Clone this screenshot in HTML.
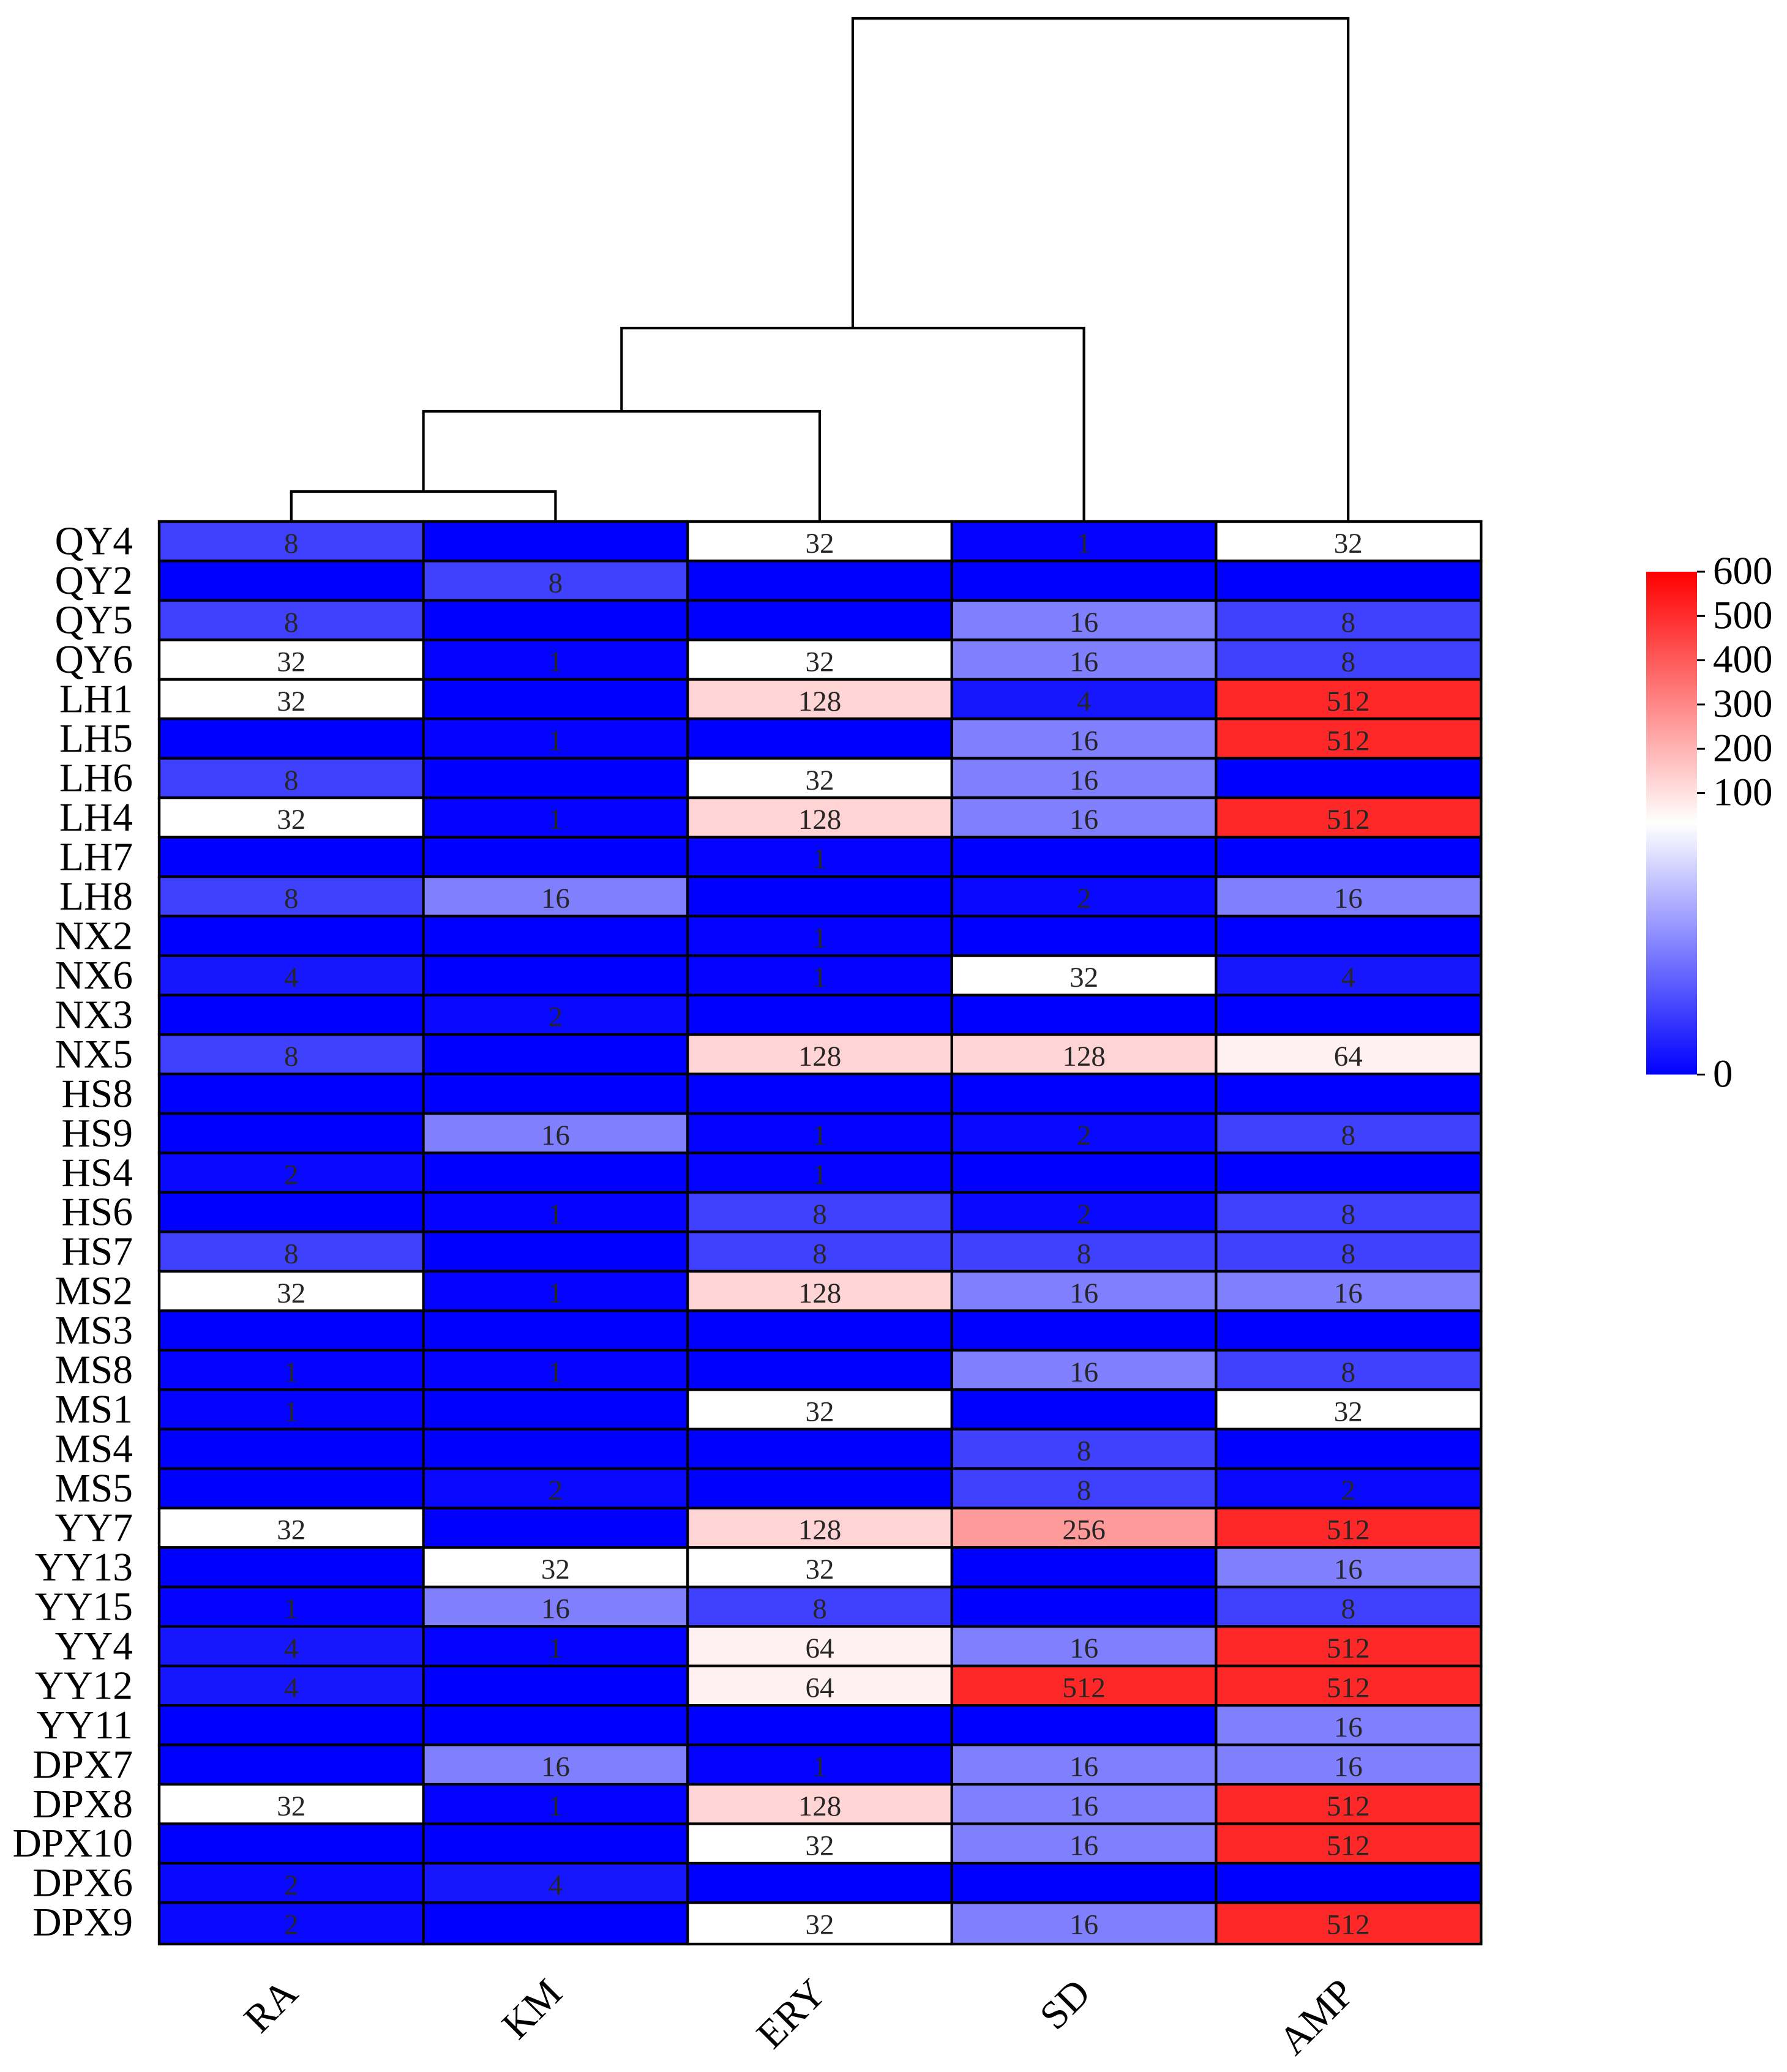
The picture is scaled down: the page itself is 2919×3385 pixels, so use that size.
<!DOCTYPE html>
<html lang="en">
<head>
<meta charset="utf-8">
<title>Clustered heatmap</title>
<style>
html,body{margin:0;padding:0;background:#fff;}
svg{display:block;font-family:"Liberation Serif",serif;}
</style>
</head>
<body>
<svg id="chart" xmlns="http://www.w3.org/2000/svg" width="2919" height="3385" viewBox="0 0 2919 3385">
<rect x="0" y="0" width="2919" height="3385" fill="#ffffff"/>
<defs>
<linearGradient id="cbar-gradient" x1="0" y1="1" x2="0" y2="0">
<stop offset="0" stop-color="#0000ff"/>
<stop offset="0.5" stop-color="#ffffff"/>
<stop offset="1" stop-color="#ff0000"/>
</linearGradient>
</defs>
<g id="dendrogram"></g>
<g id="cells"></g>
<g id="rowlabels"></g>
<g id="collabels"></g>
<g id="colorbar"></g>
</svg>
<script>
const rowNames = ["QY4","QY2","QY5","QY6","LH1","LH5","LH6","LH4","LH7","LH8","NX2","NX6","NX3","NX5","HS8","HS9","HS4","HS6","HS7","MS2","MS3","MS8","MS1","MS4","MS5","YY7","YY13","YY15","YY4","YY12","YY11","DPX7","DPX8","DPX10","DPX6","DPX9"];
const colNames = ["RA","KM","ERY","SD","AMP"];
const valuesRA  = [8,0,8,32,32,0,8,32,0,8,0,4,0,8,0,0,2,0,8,32,0,1,1,0,0,32,0,1,4,4,0,0,32,0,2,2];
const valuesKM  = [0,8,0,1,0,1,0,1,0,16,0,0,2,0,0,16,0,1,0,1,0,1,0,0,2,0,32,16,1,0,0,16,1,0,4,0];
const valuesERY = [32,0,0,32,128,0,32,128,1,0,1,1,0,128,0,1,1,8,8,128,0,0,32,0,0,128,32,8,64,64,0,1,128,32,0,32];
const valuesSD  = [1,0,16,16,4,16,16,16,0,2,0,32,0,128,0,2,0,2,8,16,0,16,0,8,8,256,0,0,16,512,0,16,16,16,0,16];
const valuesAMP = [32,0,8,8,512,512,0,512,0,16,0,4,0,64,0,8,0,8,8,16,0,8,32,0,2,512,16,8,512,512,16,16,512,512,0,512];
const colorbarTicks = [0,100,200,300,400,500,600];
const normMin = 0;
const normCenter = 32;
const normMax = 600;
const mergeLeft = [0,5,6,7];
const mergeRight = [1,2,3,4];
const mergeDistance = [98,360,632,1644];

const SVGNS = "http://www.w3.org/2000/svg";
const heatLeft = 260, heatRight = 2419.3, heatTop = 852, heatBottom = 3176;
const cbLeft = 2689, cbRight = 2772, cbTop = 934, cbBottom = 1755.5;
const seriesByColumn = [valuesRA, valuesKM, valuesERY, valuesSD, valuesAMP];
const colWidth = 431.6;
const rowHeight = 64.47;

function xCol(i){ return heatLeft + i * colWidth; }
function yRow(i){ return heatTop + i * rowHeight; }
function cellW(i){ return i === colNames.length - 1 ? heatRight - xCol(i) : colWidth; }
function cellH(i){ return i === rowNames.length - 1 ? heatBottom - yRow(i) : rowHeight; }
function yDist(d){ return heatTop - d * 0.5; }
function normalize(v){
  if (v <= normCenter) return 0.5 * (v - normMin) / (normCenter - normMin);
  return 0.5 + 0.5 * (v - normCenter) / (normMax - normCenter);
}
function yBar(v){ return cbBottom - normalize(v) * (cbBottom - cbTop); }
function colorOf(v){
  const t = normalize(v);
  if (t <= 0.5){
    let c = 255 * t * 2;
    if (v < 8) c = 64 * Math.pow(v / 8, 1.5);
    c = Math.round(c);
    return "rgb(" + c + "," + c + ",255)";
  }
  const c = Math.round(255 * (1 - t) * 2);
  return "rgb(255," + c + "," + c + ")";
}
function make(tag, attrs, parent){
  const el = document.createElementNS(SVGNS, tag);
  for (const k in attrs) el.setAttribute(k, attrs[k]);
  parent.appendChild(el);
  return el;
}

const cellsG = document.getElementById("cells");
rowNames.forEach(function(rowName, r){
  colNames.forEach(function(colName, c){
    const v = seriesByColumn[c][r];
    const rect = make("rect", {x:xCol(c), y:yRow(r), width:cellW(c), height:cellH(r), fill:colorOf(v), stroke:"#000000", "stroke-width":4.2}, cellsG);
    
    
  });
});
rowNames.forEach(function(rowName, r){
  colNames.forEach(function(colName, c){
    const v = seriesByColumn[c][r];
    if (v === 0) return;
    const t = make("text", {x:xCol(c) + colWidth / 2, y:yRow(r) + rowHeight / 2 + 18.7, "text-anchor":"middle", "font-size":47, fill:"#262626"}, cellsG);
    t.textContent = String(v);
    
    
  });
});

const frame = make("rect", {x:heatLeft, y:heatTop, width:heatRight - heatLeft, height:heatBottom - heatTop, fill:"none", stroke:"#000000", "stroke-width":4.2}, cellsG);



const rowG = document.getElementById("rowlabels");
rowNames.forEach(function(rowName, r){
  const t = make("text", {x:217, y:yRow(r) + rowHeight / 2 + 21.5, "text-anchor":"end", "font-size":65.5, fill:"#000000"}, rowG);
  t.textContent = rowName;
  
  
});

const colG = document.getElementById("collabels");
colNames.forEach(function(colName, c){
  const ax = xCol(c) + colWidth / 2 + 14;
  const ay = 3260;
  const t = make("text", {x:ax, y:ay, "text-anchor":"end", "font-size":65.5, fill:"#000000", transform:"rotate(-45 " + ax + " " + ay + ")"}, colG);
  t.textContent = colName;
  
  
});

const dendroG = document.getElementById("dendrogram");
const nodeX = colNames.map(function(_, i){ return xCol(i) + colWidth / 2; });
const nodeD = colNames.map(function(){ return 0; });
mergeLeft.forEach(function(left, m){
  const right = mergeRight[m];
  const d = mergeDistance[m];
  const pts = [[nodeX[left], yDist(nodeD[left])], [nodeX[left], yDist(d)], [nodeX[right], yDist(d)], [nodeX[right], yDist(nodeD[right])]];
  const line = make("polyline", {points:pts.map(function(p){ return p.join(","); }).join(" "), fill:"none", stroke:"#000000", "stroke-width":4.2, "stroke-linejoin":"miter"}, dendroG);
  
  
  nodeX.push((nodeX[left] + nodeX[right]) / 2);
  nodeD.push(d);
});

const cbG = document.getElementById("colorbar");
const cbRect = make("rect", {x:cbLeft, y:cbTop, width:cbRight - cbLeft, height:cbBottom - cbTop, fill:"url(#cbar-gradient)"}, cbG);


colorbarTicks.forEach(function(tick){
  const y = yBar(tick);
  const l = make("line", {x1:cbRight, x2:cbRight + 13, y1:y, y2:y, stroke:"#000000", "stroke-width":3}, cbG);
  
  
  const t = make("text", {x:2798, y:y + 20, "font-size":65, fill:"#000000"}, cbG);
  t.textContent = String(tick);
  
  
});
</script>
</body>
</html>
